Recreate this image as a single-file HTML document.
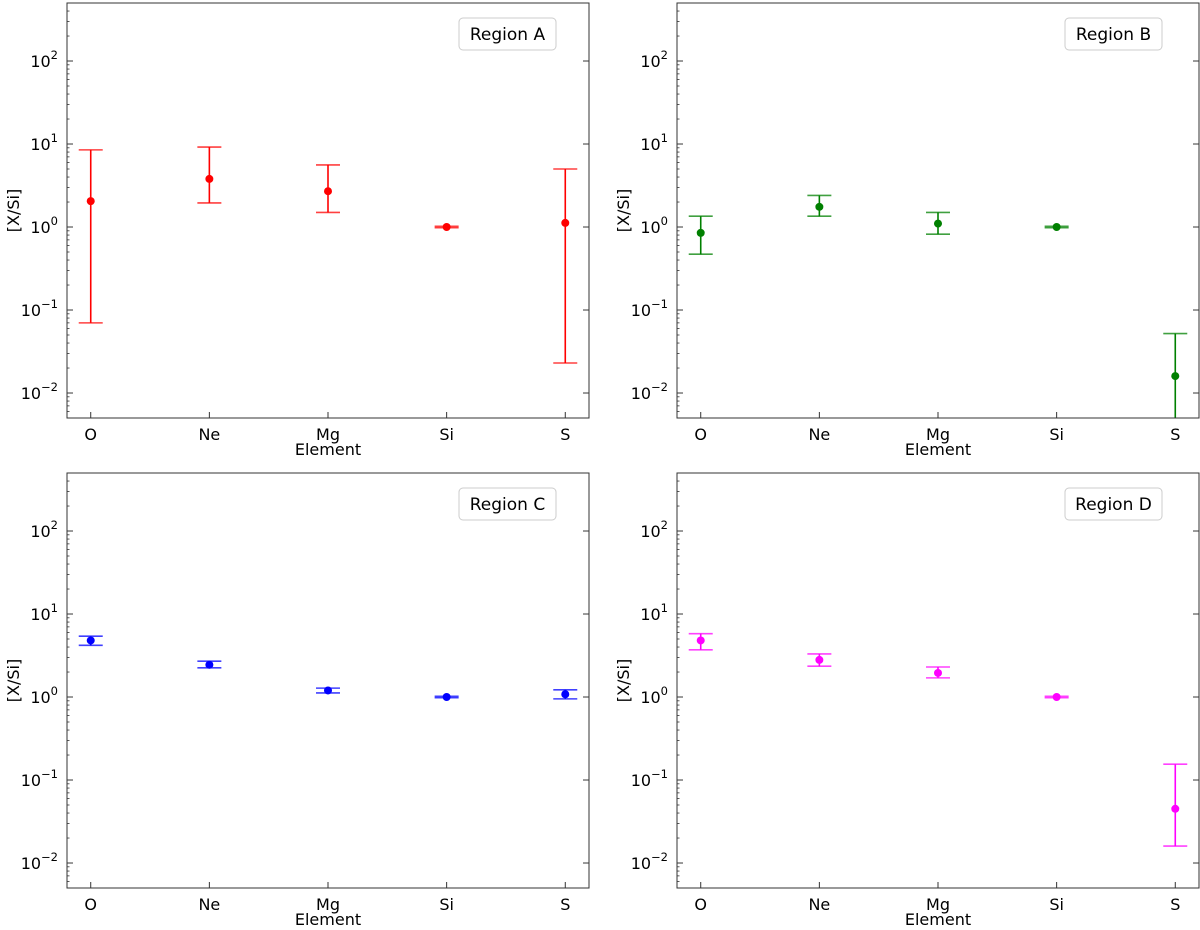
<!DOCTYPE html>
<html><head><meta charset="utf-8"><style>
body{margin:0;background:#fff;}
svg{display:block;font-family:"DejaVu Sans","Liberation Sans",sans-serif;}
</style></head><body>
<svg id="fig" width="1200" height="930" viewBox="0 0 1200 930" xmlns="http://www.w3.org/2000/svg"></svg>
<script>
const categories = ["O","Ne","Mg","Si","S"];
const valuesA = [2.05, 3.8, 2.7, 1.0, 1.12];
const lowA = [0.07, 1.95, 1.5, 0.98, 0.023];
const highA = [8.5, 9.2, 5.6, 1.02, 5.0];
const valuesB = [0.85, 1.75, 1.1, 1.0, 0.016];
const lowB = [0.47, 1.35, 0.82, 0.98, 0.001];
const highB = [1.35, 2.4, 1.5, 1.02, 0.052];
const valuesC = [4.8, 2.45, 1.2, 1.0, 1.08];
const lowC = [4.2, 2.25, 1.12, 0.98, 0.95];
const highC = [5.4, 2.7, 1.28, 1.02, 1.22];
const valuesD = [4.8, 2.8, 1.95, 1.0, 0.045];
const lowD = [3.7, 2.35, 1.7, 0.98, 0.016];
const highD = [5.8, 3.3, 2.3, 1.02, 0.155];
const yTickExps = [-2,-1,0,1,2];

const NS="http://www.w3.org/2000/svg";
const fig=document.getElementById('fig');
function mk(tag,attrs,parent){const e=document.createElementNS(NS,tag);for(const k in attrs)e.setAttribute(k,attrs[k]);(parent||fig).appendChild(e);return e;}

const panels=[
 {name:"region-a",label:"Region A",color:"#ff0000",v:valuesA,lo:lowA,hi:highA,L:67,T:3,legX:459},
 {name:"region-b",label:"Region B",color:"#008000",v:valuesB,lo:lowB,hi:highB,L:677,T:3,legX:1065},
 {name:"region-c",label:"Region C",color:"#0000ff",v:valuesC,lo:lowC,hi:highC,L:67,T:473,legX:459},
 {name:"region-d",label:"Region D",color:"#ff00ff",v:valuesD,lo:lowD,hi:highD,L:677,T:473,legX:1065}
];
const W=522,H=415,ymin=Math.log10(0.005),ymax=Math.log10(500),xmin=-0.2,xmax=4.2;

panels.forEach(p=>{
 const g=mk('g',{});
 
 
 const xs=i=>p.L+(i-xmin)/(xmax-xmin)*W;
 const ys=v=>{const l=Math.max(ymin-0.1,Math.log10(v));return p.T+(ymax-l)/(ymax-ymin)*H;};
 const defs=mk('clipPath',{id:'c'+p.name},g);mk('rect',{x:p.L,y:p.T,width:W,height:H},defs);
 for(let e=-3;e<=2;e++)for(let m=2;m<=9;m++){const v=m*Math.pow(10,e);const l=Math.log10(v);if(l<ymin||l>ymax)continue;const y=ys(v);
  mk('line',{x1:p.L,x2:p.L+2.5,y1:y,y2:y,stroke:'#333','stroke-width':0.8},g);}
 yTickExps.forEach(e=>{const y=ys(Math.pow(10,e));
  mk('line',{x1:p.L,x2:p.L+6,y1:y,y2:y,stroke:'#333','stroke-width':1},g);
  mk('line',{x1:p.L+W-6,x2:p.L+W,y1:y,y2:y,stroke:'#333','stroke-width':1},g);
  const t=mk('text',{x:p.L-9,y:y+6,'text-anchor':'end','font-size':16,fill:'#000'},g);
  
  t.textContent='10';const s=mk('tspan',{dy:-8,'font-size':11.5},t);s.textContent=(e<0?'\u2212'+(-e):String(e));
 });
 categories.forEach((c,i)=>{const x=xs(i);
  mk('line',{x1:x,x2:x,y1:p.T+H,y2:p.T+H-6,stroke:'#333','stroke-width':1},g);
  const t=mk('text',{x:x,y:p.T+H+22,'text-anchor':'middle','font-size':16,fill:'#000'},g);
  t.textContent=c;
 });
 const xl=mk('text',{x:p.L+W/2,y:p.T+H+37,'text-anchor':'middle','font-size':16},g);
 xl.textContent='Element';
 const yl=mk('text',{x:0,y:0,transform:`translate(${p.L-48},${p.T+H/2}) rotate(-90)`,'text-anchor':'middle','font-size':16},g);
 yl.textContent='[X/Si]';
 const dg=mk('g',{'clip-path':`url(#c${p.name})`},g);
 p.v.forEach((v,i)=>{const x=xs(i);const yh=ys(p.hi[i]),yl2=ys(p.lo[i]);
  const eb=mk('g',{},dg);
  
  mk('line',{x1:x,x2:x,y1:yh,y2:yl2,stroke:p.color,'stroke-width':1.6},eb);
  mk('line',{x1:x-12,x2:x+12,y1:yh,y2:yh,stroke:p.color,'stroke-width':1.6,'stroke-opacity':0.75},eb);
  mk('line',{x1:x-12,x2:x+12,y1:yl2,y2:yl2,stroke:p.color,'stroke-width':1.6,'stroke-opacity':0.75},eb);
  const pt=mk('circle',{cx:x,cy:ys(v),r:4,fill:p.color},dg);
  
 });
 mk('rect',{x:p.L,y:p.T,width:W,height:H,fill:'none',stroke:'#333','stroke-width':1},g);
 const lg=mk('g',{},g);
 mk('rect',{x:p.legX,y:p.T+15,width:97,height:32,rx:4,fill:'#fff',stroke:'#ccc','stroke-width':1},lg);
 const lt=mk('text',{x:p.legX+48.5,y:p.T+37,'text-anchor':'middle','font-size':17},lg);lt.textContent=p.label;
});
</script>
</body></html>
